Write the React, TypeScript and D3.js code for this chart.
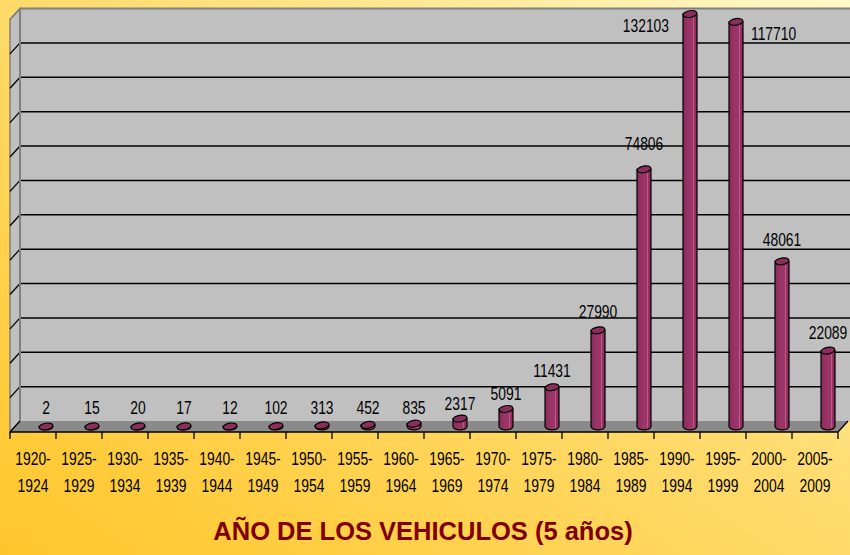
import React from "react";
import * as d3 from "d3";

const categories = [
  "1920-1924", "1925-1929", "1930-1934", "1935-1939", "1940-1944", "1945-1949",
  "1950-1954", "1955-1959", "1960-1964", "1965-1969", "1970-1974", "1975-1979",
  "1980-1984", "1985-1989", "1990-1994", "1995-1999", "2000-2004", "2005-2009",
];
const values = [2, 15, 20, 17, 12, 102, 313, 452, 835, 2317, 5091, 11431, 27990, 74806, 132103, 117710, 48061, 22089];
const yMax = 120000;
const yStep = 10000;
const title = "AÑO DE LOS VEHICULOS (5 años)";

const W = 850;
const H = 555;
const FONT = "'Liberation Sans', Arial, sans-serif";

export default function App() {
  // back wall
  const wx0 = 20, wx1 = 848, wTop = 8.5, wBottom = 421;
  const dx = -10, dy = 11; // front offset
  const x = d3.scaleBand<string>().domain(categories).range([wx0 + dx, wx1 + dx]).padding(0);
  const y = d3.scaleLinear().domain([0, yMax]).range([wBottom, wTop]);
  const yLab = d3.scaleLinear().domain([0, yMax]).range([418, -12]);
  const grid = d3.range(yStep, yMax, yStep);
  const rx = 7, ry = 3.3;
  const baseY = y(0) + 5.5;
  const sx = 0.77;

  return (
    <svg width={W} height={H} style={{ position: "absolute", left: 0, top: 0 }} fontFamily={FONT}>
      <defs>
        <linearGradient id="bg" x1="0" y1="1" x2="1" y2="0">
          <stop offset="0" stopColor="#ffc62a" />
          <stop offset="0.55" stopColor="#ffdc70" />
          <stop offset="1" stopColor="#fff8c8" />
        </linearGradient>
        <linearGradient id="bar" x1="0" y1="0" x2="1" y2="0">
          <stop offset="0" stopColor="#8a2b5a" />
          <stop offset="0.4" stopColor="#9a3466" />
          <stop offset="0.68" stopColor="#9c3668" />
          <stop offset="0.74" stopColor="#c0628f" />
          <stop offset="0.8" stopColor="#983264" />
          <stop offset="1" stopColor="#862a57" />
        </linearGradient>
      </defs>
      <rect x={0} y={0} width={W} height={H} fill="url(#bg)" />

      {/* back wall */}
      <rect x={wx0} y={wTop} width={wx1 - wx0 + 4} height={wBottom - wTop} fill="#c0c0c0" />
      {/* side wall */}
      <polygon
        points={`${wx0 + dx},${wTop + dy} ${wx0},${wTop} ${wx0},${wBottom} ${wx0 + dx},${wBottom + dy}`}
        fill="#c0c0c0"
        stroke="#808080"
        strokeWidth={1.5}
      />
      {/* grid lines */}
      {grid.map((g) => (
        <g key={g}>
          <line x1={wx0} x2={wx1 + 4} y1={y(g)} y2={y(g)} stroke="#000" strokeWidth={1.5} />
          <line x1={wx0 + dx} x2={wx0} y1={y(g) + dy} y2={y(g)} stroke="#000" strokeWidth={1.3} />
        </g>
      ))}
      {/* wall border */}
      <line x1={wx0} x2={wx1 + 4} y1={wTop} y2={wTop} stroke="#808080" strokeWidth={2} />
      <line x1={wx0} x2={wx0} y1={wTop} y2={wBottom} stroke="#808080" strokeWidth={2} />
      <line x1={wx0 + dx} x2={wx0} y1={wTop + dy} y2={wTop} stroke="#808080" strokeWidth={1.5} />
      {/* floor */}
      <polygon
        points={`${wx0},${wBottom} ${wx1},${wBottom} ${wx1 + dx},${wBottom + dy} ${wx0 + dx},${wBottom + dy}`}
        fill="#8a8a8a"
      />
      <line x1={wx0 + dx} x2={wx1 + dx} y1={wBottom + dy} y2={wBottom + dy} stroke="#000" strokeWidth={1.3} />
      <line x1={wx1 + dx} x2={wx1} y1={wBottom + dy} y2={wBottom} stroke="#000" strokeWidth={1.3} />
      <line x1={wx0 + dx} x2={wx0} y1={wBottom + dy} y2={wBottom} stroke="#000" strokeWidth={1.3} />

      {/* ticks */}
      {categories.concat([""]).map((c, i) => {
        const tx = wx0 + dx + i * x.bandwidth();
        return <line key={"t" + i} x1={tx} x2={tx} y1={wBottom + dy} y2={wBottom + dy + 7} stroke="#000" strokeWidth={1.3} />;
      })}

      {/* bars */}
      {values.map((v, i) => {
        const cx = (x(categories[i]) as number) + x.bandwidth() / 2 + 13;
        const vt = Math.min(v, yMax);
        const topY = y(vt) + 5.5;
        const d = `M${cx - rx},${topY} L${cx - rx},${baseY} A${rx},${ry} 0 0 0 ${cx + rx},${baseY} L${cx + rx},${topY} Z`;
        return (
          <g key={"b" + i}>
            <path d={d} fill="url(#bar)" stroke="#000" strokeWidth={1.2} />
            <ellipse
              cx={cx}
              cy={topY}
              rx={rx}
              ry={ry}
              fill="#8c2d5c"
              stroke="#000"
              strokeWidth={1.2}
              transform={`rotate(-10 ${cx} ${topY})`}
            />
          </g>
        );
      })}

      {/* data labels */}
      {values.map((v, i) => {
        const cx = (x(categories[i]) as number) + x.bandwidth() / 2 + 13;
        const vt = Math.min(v, yMax);
        const topY = y(vt) + 5.5;
        let lx = cx;
        let ly = Math.min(414, yLab(v));
        let anchor: "middle" | "start" | "end" = "middle";
        if (ly < 45) {
          ly = topY + 18;
          if (v > yMax) {
            anchor = "end";
            lx = cx - 21;
          } else {
            anchor = "start";
            lx = cx + 15;
          }
        }
        return (
          <text
            key={"l" + i}
            transform={`translate(${lx},${ly}) scale(${sx},1)`}
            textAnchor={anchor}
            fontSize={18}
            fill="#000"
          >
            {String(v)}
          </text>
        );
      })}

      {/* category labels */}
      {categories.map((c, i) => {
        const cx = (x(c) as number) + x.bandwidth() / 2;
        const [a, b] = c.split("-");
        return (
          <g key={"c" + i}>
            <text transform={`translate(${cx},465) scale(${sx},1)`} textAnchor="middle" fontSize={18} fill="#000">
              {a + "-"}
            </text>
            <text transform={`translate(${cx},492) scale(${sx},1)`} textAnchor="middle" fontSize={18} fill="#000">
              {b}
            </text>
          </g>
        );
      })}

      <text x={423} y={540} textAnchor="middle" fontSize={25.5} fontWeight="bold" fill="#800000">
        {title}
      </text>
    </svg>
  );
}
